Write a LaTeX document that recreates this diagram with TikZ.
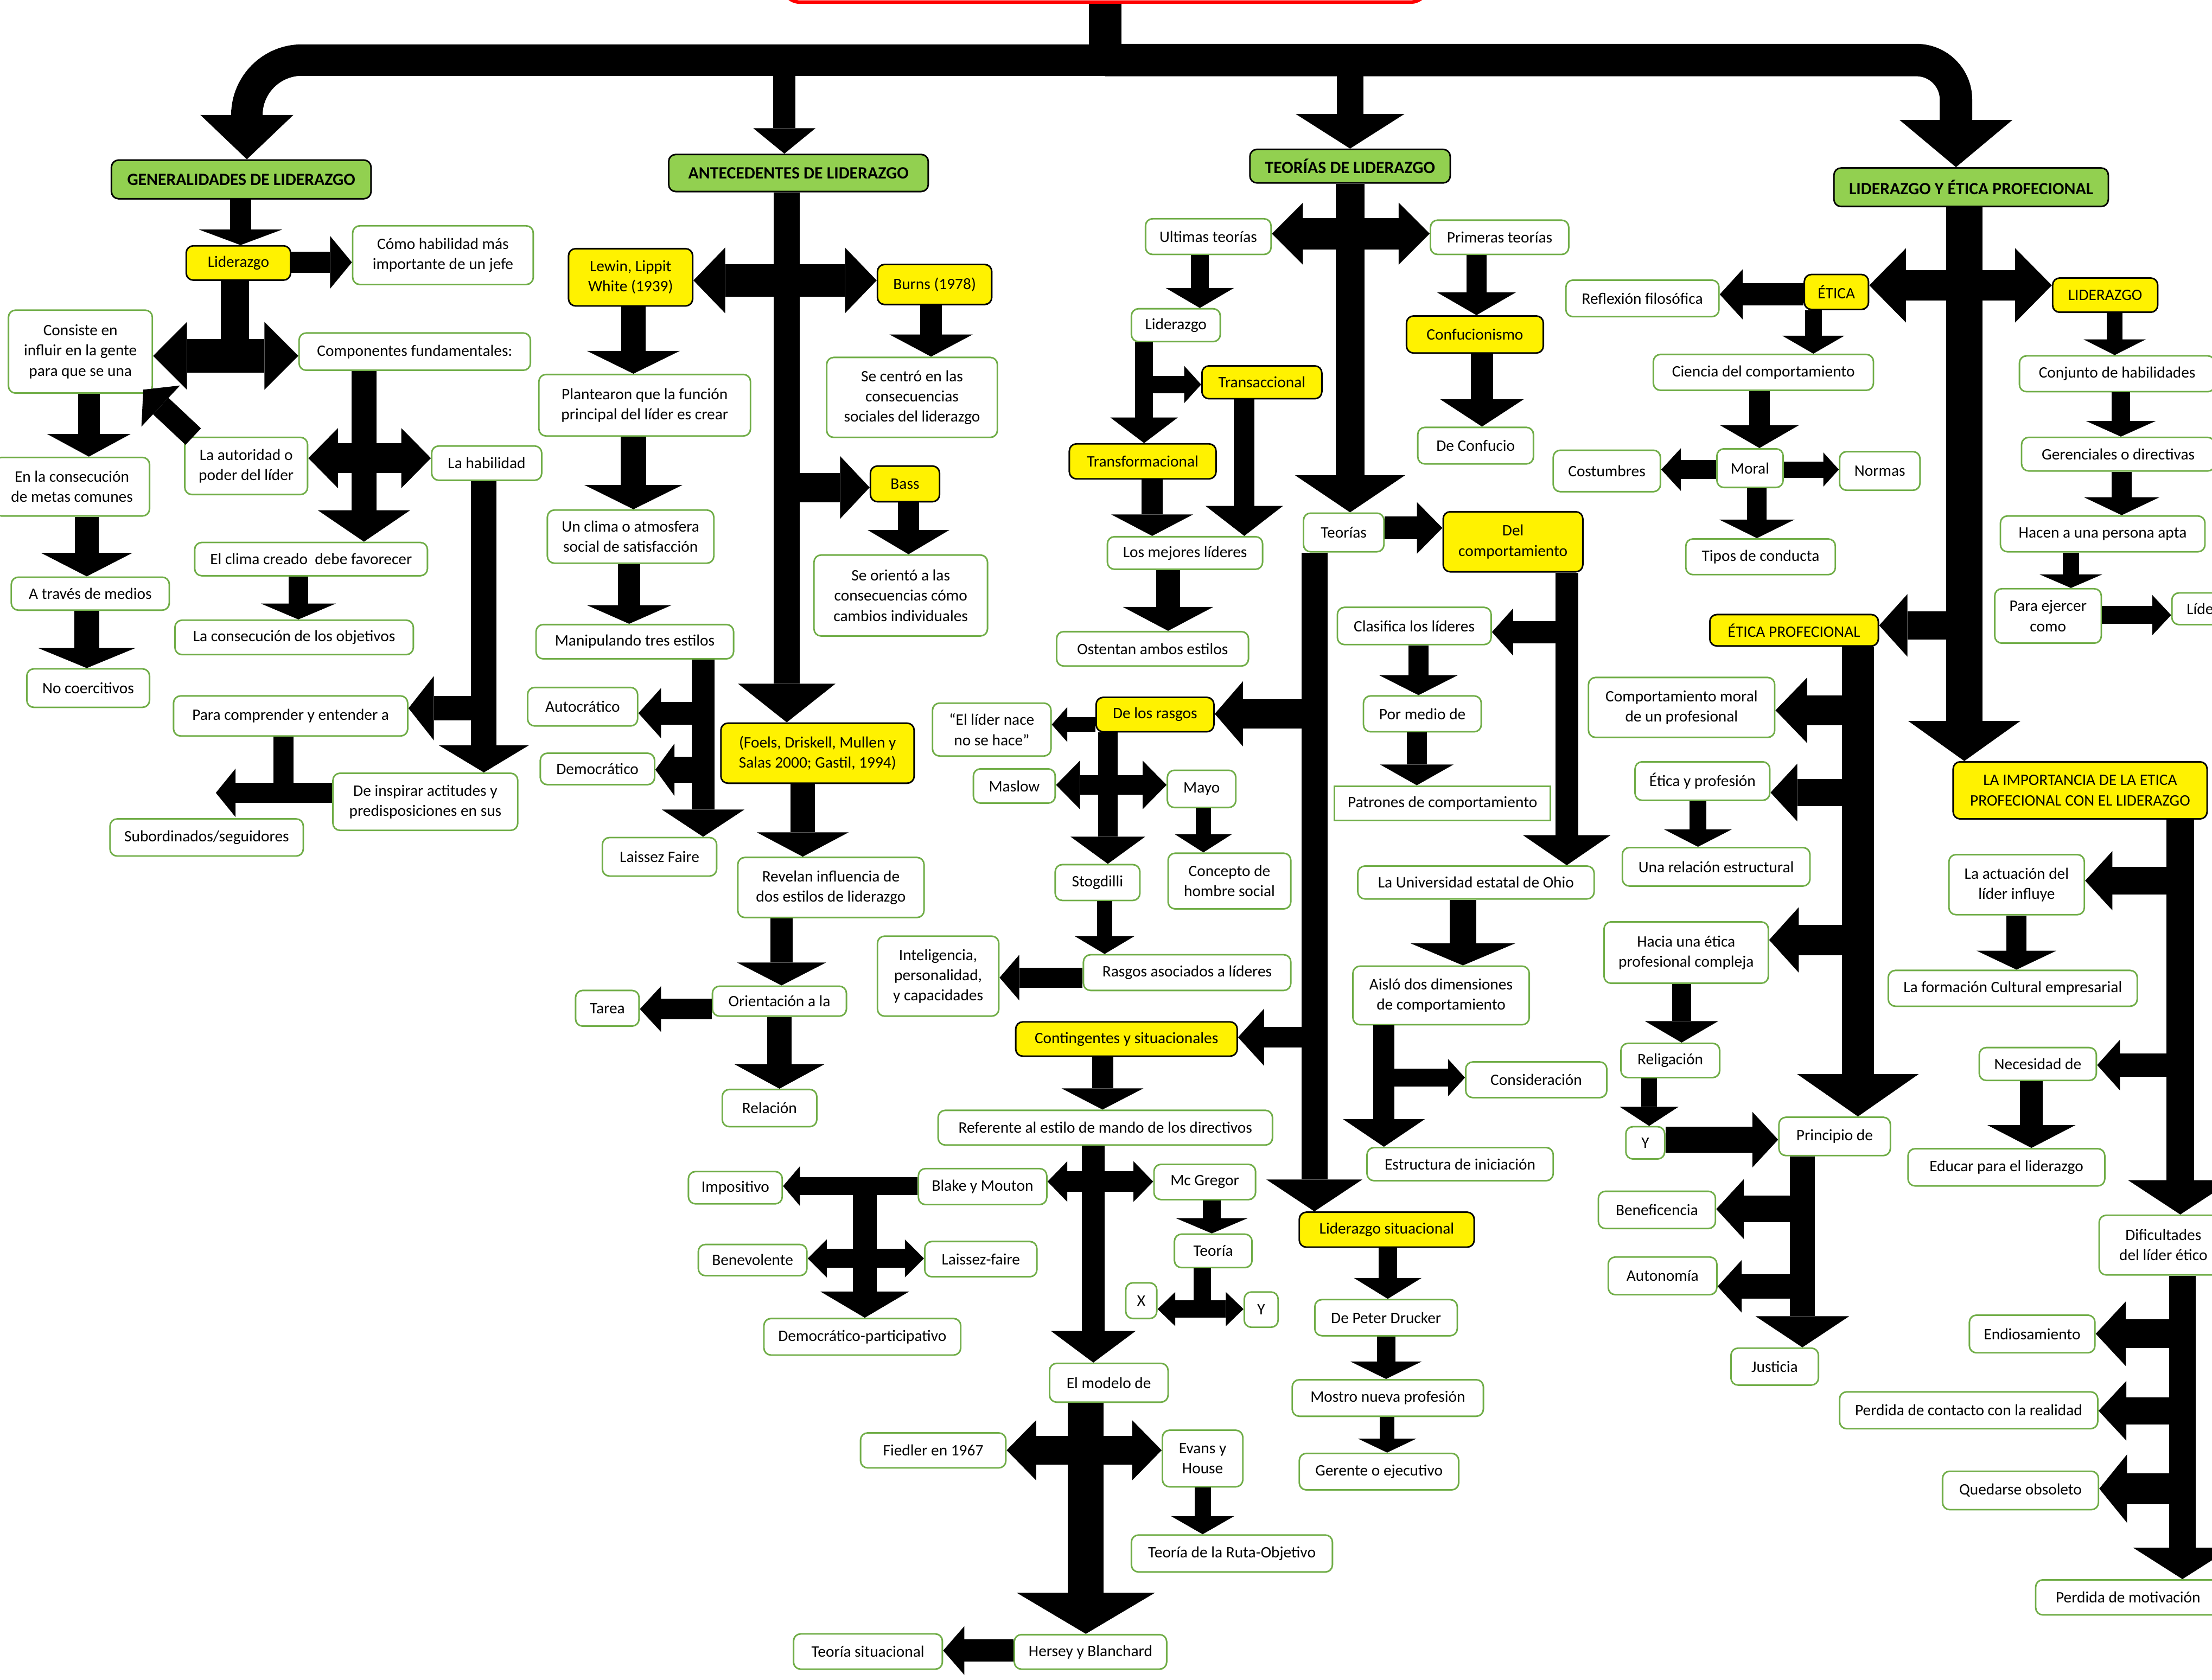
\documentclass[tikz,border=0pt]{standalone}
\usepackage{fontspec}
\setmainfont{Carlito}
\usetikzlibrary{arrows.meta}
\definecolor{hgreen}{HTML}{92D050}
\definecolor{lgreen}{HTML}{70AD47}
\newcommand\myfs{\fontsize{11.3}{14.3}\selectfont}
\newcommand\myhfs{\fontsize{12.2}{14.5}\selectfont\bfseries}
\newcommand\bx[7]{\node[#2, minimum width={(#5-(#3))*1pt}, minimum height={(#6-(#4))*1pt}] (#1) at ({(#3+#5)/2},{(#4+#6)/2}) {#7};}
\tikzset{
  base/.style={rounded corners=5pt, inner sep=1pt, align=center, font=\myfs},
  gbox/.style={base, fill=hgreen, draw=black, line width=1.1pt, font=\myhfs},
  ybox/.style={base, fill=yellow, draw=black, line width=1.1pt},
  wbox/.style={base, fill=white, draw=lgreen, line width=1.1pt},
  fa/.style n args={3}{line width=#1pt, -{Triangle[length=#3pt,width=#2pt,line width=0pt]}},
  fd/.style n args={3}{line width=#1pt, {Triangle[length=#3pt,width=#2pt,line width=0pt]}-{Triangle[length=#3pt,width=#2pt,line width=0pt]}},
  shaft/.style={line width=#1pt},
}
\begin{document}
\begin{tikzpicture}[x=1pt,y=-1pt]
\useasboundingbox (0,0) rectangle (1568,1191);
\fill[white] (0,0) rectangle (1568,1191);
% top box
\node[draw=red, fill=white, line width=2.5pt, rounded corners=12pt, minimum width=457pt, minimum height=63pt] (red) at (783.5,-30) {};
% headings
\bx{gen}{gbox}{79}{113.5}{263}{140.9}{GENERALIDADES DE LIDERAZGO}
\bx{ant}{gbox}{474}{109.5}{658}{135.8}{ANTECEDENTES DE LIDERAZGO}
\bx{teo}{gbox}{886}{105.9}{1028}{129.7}{TEORÍAS DE LIDERAZGO}
\bx{lye}{gbox}{1300}{119.1}{1494.5}{146.4}{LIDERAZGO Y ÉTICA PROFECIONAL}
% yellow
\bx{lid1}{ybox}{132}{174.3}{206}{198.6}{Liderazgo}
\bx{lewin}{ybox}{403}{176.3}{491}{216.9}{Lewin, Lippit\\White (1939)}
\bx{burns}{ybox}{622}{187.5}{703}{215.9}{Burns (1978)}
\bx{bass}{ybox}{617}{330.4}{666}{355.7}{Bass}
\bx{foels}{ybox}{511}{512.7}{648}{555.3}{(Foels, Driskell, Mullen y\\Salas 2000; Gastil, 1994)}
\bx{transac}{ybox}{852}{259.4}{937}{282.7}{Transaccional}
\bx{transf}{ybox}{758}{314.7}{862}{339.5}{Transformacional}
\bx{confu}{ybox}{997}{224}{1094}{250.3}{Confucionismo}
\bx{delcomp}{ybox}{1023}{362.8}{1122}{405.4}{Del\\comportamiento}
\bx{rasgos}{ybox}{777}{494.4}{860.5}{518.8}{De los rasgos}
\bx{conting}{ybox}{720}{724.5}{877}{748.8}{Contingentes y situacionales}
\bx{lidsit}{ybox}{921}{859.4}{1045}{884.2}{Liderazgo situacional}
\bx{etica}{ybox}{1279}{194.6}{1324.5}{219.4}{ÉTICA}
\bx{lider3}{ybox}{1455}{197.1}{1529.5}{221.4}{LIDERAZGO}
\bx{eticaprof}{ybox}{1212}{435.7}{1331.5}{458}{ÉTICA PROFECIONAL}
\bx{import}{ybox}{1384.5}{540.1}{1564.5}{580.6}{LA IMPORTANCIA DE LA ETICA\\PROFECIONAL CON EL LIDERAZGO}
% white: generalidades
\bx{como}{wbox}{250}{160.1}{378}{201.7}{Cómo habilidad más\\importante de un jefe}
\bx{consiste}{wbox}{6}{219.9}{108}{278.7}{Consiste en\\influir en la gente\\para que se una}
\bx{comp}{wbox}{212}{236.1}{376}{262.5}{Componentes fundamentales:}
\bx{autoridad}{wbox}{131}{310.1}{218}{350.6}{La autoridad o\\poder del líder}
\bx{hab}{wbox}{306}{316.2}{384}{340.5}{La habilidad}
\bx{enla}{wbox}{-4}{324.3}{106}{365.8}{En la consecución\\de metas comunes}
\bx{clima}{wbox}{138}{384.6}{303}{408.2}{El clima creado\ \ debe favorecer}
\bx{atraves}{wbox}{8}{409.2}{120}{432.6}{A través de medios}
\bx{nocoer}{wbox}{19}{474.2}{106}{501.5}{No coercitivos}
\bx{consec}{wbox}{124}{439.7}{293}{464.1}{La consecución de los objetivos}
\bx{para}{wbox}{123}{493.4}{289}{521.8}{Para comprender y entender a}
\bx{insp}{wbox}{236}{548.2}{367}{588.7}{De inspirar actitudes y\\predisposiciones en sus}
\bx{subord}{wbox}{78}{580.6}{215}{606.9}{Subordinados/seguidores}
% antecedentes
\bx{plant}{wbox}{382}{265.5}{532}{309.1}{Plantearon que la función\\principal del líder es crear}
\bx{secentro}{wbox}{586}{253.4}{707}{310.1}{Se centró en las\\consecuencias\\sociales del liderazgo}
\bx{unclima}{wbox}{388}{361.6}{506}{399.3}{Un clima o atmosfera\\social de satisfacción}
\bx{seorient}{wbox}{577}{393.5}{700}{450.9}{Se orientó a las\\consecuencias cómo\\cambios individuales}
\bx{manip}{wbox}{380}{442.8}{520}{467.1}{Manipulando tres estilos}
\bx{autocr}{wbox}{374}{487.4}{452}{514.7}{Autocrático}
\bx{democr}{wbox}{383}{534}{464}{556.3}{Democrático}
\bx{laissez}{wbox}{427}{593.8}{508}{621.1}{Laissez Faire}
\bx{revelan}{wbox}{523}{607.9}{655}{650.5}{Revelan influencia de\\dos estilos de liderazgo}
\bx{orient}{wbox}{505}{699.2}{600}{720.4}{Orientación a la}
\bx{tarea}{wbox}{408}{702.2}{453}{727.5}{Tarea}
\bx{relacion}{wbox}{512}{772.4}{579}{798.8}{Relación}
% teorias
\bx{intel}{wbox}{622}{663.7}{708}{720.4}{Inteligencia,\\personalidad,\\y capacidades}
\bx{lidernace}{wbox}{661}{498.5}{745}{536}{“El líder nace\\no se hace”}
\bx{maslow}{wbox}{690}{545.1}{748}{569.4}{Maslow}
\bx{ultimas}{wbox}{812}{155.1}{901}{180.4}{Ultimas teorías}
\bx{primeras}{wbox}{1014}{156.1}{1112}{180.4}{Primeras teorías}
\bx{lid2}{wbox}{802}{218.9}{865}{242.2}{Liderazgo}
\bx{mejores}{wbox}{785}{380.5}{895}{403.6}{Los mejores líderes}
\bx{deconfucio}{wbox}{1005}{303}{1087}{328.9}{De Confucio}
\bx{teorias}{wbox}{924}{363.8}{981}{391.2}{Teorías}
\bx{ostentan}{wbox}{749}{447.8}{885}{472.2}{Ostentan ambos estilos}
\bx{mayo}{wbox}{827.5}{546.1}{876}{572.5}{Mayo}
\bx{concepto}{wbox}{828}{604.9}{915}{644.4}{Concepto de\\hombre social}
\bx{stog}{wbox}{748}{613}{808}{638.4}{Stogdilli}
\bx{rasgosaso}{wbox}{768}{676.9}{915}{702.2}{Rasgos asociados a líderes}
\bx{clasif}{wbox}{948}{430.6}{1057}{457}{Clasifica los líderes}
\bx{pormedio}{wbox}{966.5}{493.4}{1050}{518.8}{Por medio de}
\bx{patrones}{wbox,sharp corners}{946}{557.3}{1099}{581.6}{Patrones de comportamiento}
\bx{ohio}{wbox}{962.5}{614}{1130}{637.3}{La Universidad estatal de Ohio}
\bx{aislo}{wbox}{959}{685}{1084}{726.5}{Aisló dos dimensiones\\de comportamiento}
\bx{consid}{wbox}{1039}{752.9}{1139}{778.2}{Consideración}
\bx{estructura}{wbox}{969}{813.6}{1101}{837.1}{Estructura de iniciación}
\bx{referente}{wbox}{665}{787.2}{902}{811.8}{Referente al estilo de mando de los directivos}
\bx{blake}{wbox}{651}{828.5}{742}{854}{Blake y Mouton}
\bx{mcg}{wbox}{818}{825.5}{890}{850.5}{Mc Gregor}
\bx{impositivo}{wbox}{488}{830.6}{554.5}{853.5}{Impositivo}
\bx{benev}{wbox}{495}{882.3}{572}{904.4}{Benevolente}
\bx{laissez2}{wbox}{655.5}{880.2}{735}{905.2}{Laissez-faire}
\bx{democrpart}{wbox}{541.5}{934.8}{681}{960.7}{Democrático-participativo}
\bx{teoria}{wbox}{832.5}{875}{887.5}{898.7}{Teoría}
\bx{xbox}{wbox}{798}{909.5}{820}{934.8}{X}
\bx{ybox}{wbox}{882}{916}{906}{941}{Y}
\bx{modelo}{wbox}{744}{966.6}{828}{994.1}{El modelo de}
\bx{fiedler}{wbox}{610}{1015.9}{713}{1040.7}{Fiedler en 1967}
\bx{evans}{wbox}{824}{1014}{881}{1054.1}{Evans y\\House}
\bx{ruta}{wbox}{802}{1088.3}{944.5}{1114.5}{Teoría de la Ruta-Objetivo}
\bx{hersey}{wbox}{719}{1158.9}{827}{1183.4}{Hersey y Blanchard}
\bx{teosit}{wbox}{562.5}{1158.4}{668}{1183.4}{Teoría situacional}
\bx{drucker}{wbox}{932}{921.4}{1033}{947}{De Peter Drucker}
\bx{mostro}{wbox}{916}{978.2}{1051.5}{1004.1}{Mostro nueva profesión}
\bx{gerente}{wbox}{921}{1030.4}{1034}{1056.3}{Gerente o ejecutivo}
% etica
\bx{reflexion}{wbox}{1110}{198.6}{1218.5}{224.5}{Reflexión filosófica}
\bx{ciencia}{wbox}{1172}{251.3}{1328}{276.7}{Ciencia del comportamiento}
\bx{moral}{wbox}{1217}{318.2}{1264}{345.6}{Moral}
\bx{costumbres}{wbox}{1101}{319.2}{1177}{348.6}{Costumbres}
\bx{normas}{wbox}{1304}{320.2}{1361}{347.6}{Normas}
\bx{tipos}{wbox}{1195}{382.1}{1301}{407.4}{Tipos de conducta}
\bx{conjunto}{wbox}{1431.5}{252.3}{1570}{277.7}{Conjunto de habilidades}
\bx{gerenciales}{wbox}{1433}{310.1}{1570}{333.9}{Gerenciales o directivas}
\bx{hacen}{wbox}{1418}{365.8}{1563}{391.2}{Hacen a una persona apta}
\bx{paraejercer}{wbox}{1414}{417.4}{1489.5}{456}{Para ejercer\\como}
\node[wbox, anchor=west, minimum height=22.5pt, inner xsep=10.5pt] (lider4) at (1539,431.6) {Líder};
\bx{compmoral}{wbox}{1126}{480.3}{1258}{522.8}{Comportamiento moral\\de un profesional}
\bx{eticayprof}{wbox}{1159}{540.1}{1254.5}{567.4}{Ética y profesión}
\bx{relestr}{wbox}{1150}{600.9}{1283}{628.2}{Una relación estructural}
\bx{hacia}{wbox}{1137}{653.6}{1253.5}{697.1}{Hacia una ética\\profesional compleja}
\bx{religacion}{wbox}{1149}{739.7}{1219}{764}{Religación}
\bx{y2}{wbox}{1152.5}{798.8}{1180}{821.7}{Y}
\bx{principio}{wbox}{1261}{792.1}{1340}{819.3}{Principio de}
\bx{benef}{wbox}{1133}{844.6}{1216}{871}{Beneficencia}
\bx{auton}{wbox}{1140}{891.2}{1217}{917.9}{Autonomía}
\bx{justicia}{wbox}{1227}{955.8}{1289}{982}{Justicia}
\bx{actuacion}{wbox}{1381.5}{605.9}{1477.5}{648.5}{La actuación del\\líder influye}
\bx{formacion}{wbox}{1338.5}{688}{1515}{713.4}{La formación Cultural empresarial}
\bx{necesidad}{wbox}{1403}{742.7}{1486}{766}{Necesidad de}
\bx{educar}{wbox}{1352.5}{814.4}{1492}{840.8}{Educar para el liderazgo}
\bx{dific}{wbox}{1488}{861.6}{1579}{903.9}{Dificultades\\del líder ético}
\bx{endios}{wbox}{1396}{932.4}{1485}{959.1}{Endiosamiento}
\bx{perdcont}{wbox}{1304}{986.8}{1487}{1012.9}{Perdida de contacto con la realidad}
\bx{quedarse}{wbox}{1377}{1043.1}{1487.5}{1070.3}{Quedarse obsoleto}
\bx{perdmot}{wbox}{1443}{1120.1}{1574}{1144.9}{Perdida de motivación}

% ===== trunk =====
\coordinate (trunk) at (783.5,42.6);
\draw[shaft=23] (783.5,0 |- red.south) -- (783.5,46);
\draw[line width=22.3pt, rounded corners=39pt] (trunk) -| (175,85);
\draw[fa={22}{66}{31.5}] (175,78) -- (175,0 |- gen.north);
\draw[line width=23pt, rounded corners=28pt] (trunk) -| (1386.5,87);
\draw[fa={23}{80}{33.5}] (1386.5,80) -- (1386.5,0 |- lye.north);
\draw[fa={16}{44}{18}] (trunk -| 556,0) -- (556,0 |- ant.north);
\draw[fa={19}{77}{24.5}] (trunk -| 957,0) -- (957,0 |- teo.north);

% ===== generalidades =====
\draw[fa={15}{59}{11}] (170.5,0 |- gen.south) -- (170.5,0 |- lid1.north);
\draw[fa={15.2}{37.5}{15.5}] (lid1.east |- 0,186) -- (como.west |- 0,186);
\coordinate (jA) at (166.5,252.3);
\draw[shaft=20] (166.5,0 |- lid1.south) -- (jA);
\draw[fd={23.8}{48.1}{24}] (consiste.east |- jA) -- (comp.west |- jA);
\draw[fa={15.5}{59}{16}] (63,0 |- consiste.south) -- (63,0 |- enla.north);
\draw[fa={16}{40}{17}] (137,0 |- autoridad.north) -- ([xshift=-7pt,yshift=3pt]consiste.south east);
\draw[fa={17.5}{65.5}{22.3}] (258,0 |- comp.south) -- (258,0 |- clima.north);
\draw[fd={21.3}{42.6}{21}] (autoridad.east |- 0,324.8) -- (hab.west |- 0,324.8);
\draw[fa={17}{65}{16.7}] (61.5,0 |- enla.south) -- (61.5,0 |- atraves.north);
\draw[fa={18}{69}{14.2}] (61.5,0 |- atraves.south) -- (61.5,0 |- nocoer.north);
\draw[fa={14}{53}{11.2}] (211.5,0 |- clima.south) -- (211.5,0 |- consec.north);
\draw[fa={18}{64}{19.3}] (343,0 |- hab.south) -- (343,0 |- insp.north);
\coordinate (jB) at (343,502.1);
\draw[fa={17.2}{45.6}{18}] (jB) -- (para.east |- jB);
\coordinate (jC) at (201,562.1);
\draw[shaft=14.5] (201,0 |- para.south) -- (jC);
\coordinate (tipS) at (153,562.1);
\draw[fa={14.2}{34.5}{14}] (insp.west |- jC) -- (tipS);

% ===== antecedentes =====
\draw[fa={18.6}{69}{27.4}] (557.7,0 |- ant.south) -- (557.7,0 |- foels.north);
\draw[fd={22.8}{46.6}{22.5}] (lewin.east |- 0,198.8) -- (burns.west |- 0,198.8);
\coordinate (jD) at (557.7,345.6);
\draw[fa={20.8}{44.6}{21}] (jD) -- (bass.west |- jD);
\draw[fa={17.6}{66}{16.2}] (449,0 |- lewin.south) -- (449,0 |- plant.north);
\draw[fa={15.5}{59}{15.7}] (660,0 |- burns.south) -- (660,0 |- secentro.north);
\draw[fa={18}{69.5}{17.2}] (449,0 |- plant.south) -- (449,0 |- unclima.north);
\draw[fa={15}{58}{17.2}] (644,0 |- bass.south) -- (644,0 |- seorient.north);
\draw[fa={16}{60}{13.2}] (446,0 |- unclima.south) -- (446,0 |- manip.north);
\draw[fa={16}{58.5}{19.3}] (498.4,0 |- manip.south) -- (498.4,0 |- laissez.north);
\coordinate (jE) at (498.4,505.6);
\draw[fa={16.2}{35.5}{16}] (jE) -- (autocr.east |- jE);
\coordinate (jF) at (498.4,545.7);
\draw[fa={18.2}{37}{13.5}] (jF) -- (democr.east |- jF);
\draw[fa={17}{65}{17.2}] (569,0 |- foels.south) -- (569,0 |- revelan.north);
\draw[fa={16}{63}{16.2}] (554,0 |- revelan.south) -- (554,0 |- orient.north);
\draw[fa={14.7}{32.4}{15}] (orient.west |- 0,715.4) -- (tarea.east |- 0,715.4);
\draw[fa={17}{64}{17.4}] (552.5,0 |- orient.south) -- (552.5,0 |- relacion.north);

% ===== teorias =====
\draw[fa={20.5}{78}{26.3}] (957,0 |- teo.south) -- (957,0 |- teorias.north);
\draw[fd={22.3}{44}{22}] (ultimas.east |- 0,165.7) -- (primeras.west |- 0,165.7);
\draw[fa={13}{48.5}{14.2}] (850.5,0 |- ultimas.south) -- (850.5,0 |- lid2.north);
\draw[fa={12.5}{48}{18.2}] (811,0 |- lid2.south) -- (811,0 |- transf.north);
\coordinate (jG) at (811,272.6);
\draw[fa={12.2}{26.4}{12}] (jG) -- (transac.west |- jG);
\draw[fa={14.7}{55}{21.3}] (882,0 |- transac.south) -- (882,0 |- mejores.north);
\draw[fa={15}{58}{15.2}] (816.7,0 |- transf.south) -- (816.7,0 |- mejores.north);
\draw[fa={14}{56}{16.2}] (1046.6,0 |- primeras.south) -- (1046.6,0 |- confu.north);
\draw[fa={15.5}{59}{19.3}] (1050.5,0 |- confu.south) -- (1050.5,0 |- deconfucio.north);
\draw[fa={16.2}{36.5}{18}] (teorias.east |- 0,374.3) -- (delcomp.west |- 0,374.3);
\draw[fa={18.5}{68}{22.6}] (931.7,0 |- teorias.south) -- (931.7,0 |- lidsit.north);
\coordinate (jH) at (931.7,506.1);
\draw[fa={20.8}{46.1}{20}] (jH) -- (rasgos.east |- jH);
\coordinate (jI) at (931.7,735.4);
\draw[fa={14.5}{40.5}{18.5}] (jI) -- (conting.east |- jI);
\draw[fa={16.7}{64}{16.9}] (828,0 |- mejores.south) -- (828,0 |- ostentan.north);
\draw[fa={10.6}{24.8}{11}] (rasgos.west |- 0,513.7) -- (lidernace.east |- 0,513.7);
\draw[fa={14}{53}{19.3}] (785.3,0 |- rasgos.south) -- (785.3,0 |- stog.north);
\draw[fd={13.5}{34.5}{17}] (maslow.east |- 0,556.5) -- (mayo.west |- 0,556.5);
\draw[fa={11}{40.5}{12.9}] (853,0 |- mayo.south) -- (853,0 |- concepto.north);
\draw[fa={11}{42.6}{12.7}] (783,0 |- stog.south) -- (783,0 |- rasgosaso.north);
\draw[fa={14.2}{32.4}{14}] (rasgosaso.west |- 0,693.1) -- (intel.east |- 0,693.1);
\draw[fa={15}{58}{15}] (781.5,0 |- conting.south) -- (781.5,0 |- referente.north);
\draw[fa={16}{62}{21.3}] (1110.6,0 |- delcomp.south) -- (1110.6,0 |- ohio.north);
\coordinate (jJ) at (1110.6,448.1);
\draw[fa={15.7}{33.4}{15}] (jJ) -- (clasif.east |- jJ);
\draw[fa={14}{56}{14.2}] (1005.5,0 |- clasif.south) -- (1005.5,0 |- pormedio.north);
\draw[fa={14}{52}{14.7}] (1004.3,0 |- pormedio.south) -- (1004.3,0 |- patrones.north);
\draw[fa={19}{74.5}{15.7}] (1037,0 |- ohio.south) -- (1037,0 |- aislo.north);
\draw[fa={15}{58}{19.6}] (981,0 |- aislo.south) -- (981,0 |- estructura.north);
\coordinate (jK) at (981,764);
\draw[fa={12.7}{26.4}{12}] (jK) -- (consid.west |- jK);
\draw[fa={16}{60}{22.4}] (775,0 |- referente.south) -- (775,0 |- modelo.north);
\draw[fd={14.8}{28.8}{14}] (blake.east |- 0,837.7) -- (mcg.west |- 0,837.7);
\draw[fa={12.9}{28.2}{12}] (blake.west |- 0,840.9) -- (impositivo.east |- 0,840.9);
\coordinate (jL) at (613,840.9);
\draw[fa={17}{63}{18.6}] (jL) -- (613,0 |- democrpart.north);
\draw[fd={13.5}{26.9}{13.5}] (benev.east |- 0,892.2) -- (laissez2.west |- 0,892.2);
\draw[fa={13}{51}{10.8}] (859,0 |- mcg.south) -- (859,0 |- teoria.north);
\coordinate (jM) at (852.25,928.1);
\draw[shaft=12] (852.25,0 |- teoria.south) -- (jM);
\draw[fd={12.4}{24.2}{12.5}] (xbox.east |- jM) -- (ybox.west |- jM);
\draw[fa={25.5}{98}{29.1}] (769.7,0 |- modelo.south) -- (769.7,0 |- hersey.north);
\draw[fd={20.7}{42.8}{21}] (fiedler.east |- 0,1028.2) -- (evans.west |- 0,1028.2);
\draw[fa={11.5}{45}{12.9}] (852.5,0 |- evans.south) -- (852.5,0 |- ruta.north);
\draw[fa={15.6}{34.5}{15}] (hersey.west |- 0,1170.2) -- (teosit.east |- 0,1170.2);
\draw[fa={13}{48}{14.8}] (983.7,0 |- lidsit.south) -- (983.7,0 |- drucker.north);
\draw[fa={13}{50.7}{12.4}] (982.5,0 |- drucker.south) -- (982.5,0 |- mostro.north);
\draw[fa={10.5}{41.5}{9.9}] (983.3,0 |- mostro.south) -- (983.3,0 |- gerente.north);

% ===== liderazgo y etica =====
\draw[fa={26}{79.5}{28.4}] (1392.4,0 |- lye.south) -- (1392.4,0 |- import.north);
\draw[fd={21.3}{52.7}{26}] (etica.east |- 0,202.3) -- (lider3.west |- 0,202.3);
\coordinate (jN) at (1392.4,443.4);
\draw[fa={20.3}{44.3}{20}] (jN) -- (eticaprof.east |- jN);
\draw[fa={15.9}{35.5}{16.2}] (etica.west |- 0,208.7) -- (reflexion.east |- 0,208.7);
\draw[fa={12}{44}{12.7}] (1285.4,0 |- etica.south) -- (1285.4,0 |- ciencia.north);
\draw[fa={14.5}{56}{16.2}] (1247.2,0 |- ciencia.south) -- (1247.2,0 |- moral.north);
\draw[fa={13.2}{30.4}{14}] (moral.west |- 0,332.9) -- (costumbres.east |- 0,332.9);
\draw[fa={11.5}{24.3}{11}] (moral.east |- 0,332.9) -- (normas.west |- 0,332.9);
\draw[fa={14}{53.5}{13.2}] (1245.4,0 |- moral.south) -- (1245.4,0 |- tipos.north);
\draw[fa={11}{44}{11.1}] (1499,0 |- lider3.south) -- (1499,0 |- conjunto.north);
\draw[fa={12.8}{49.5}{11.1}] (1503.4,0 |- conjunto.south) -- (1503.4,0 |- gerenciales.north);
\draw[fa={14}{53.5}{12.7}] (1504,0 |- gerenciales.south) -- (1504,0 |- hacen.north);
\draw[fa={11.3}{44.5}{9.6}] (1468,0 |- hacen.south) -- (1468,0 |- paraejercer.north);
\draw[fa={12.7}{28.4}{13.3}] (paraejercer.east |- 0,436.1) -- (lider4.west |- 0,436.1);
\draw[fa={23}{86}{30}] (1317,0 |- eticaprof.south) -- (1317,0 |- principio.north);
\coordinate (jO) at (1317,503.6);
\draw[fa={21.3}{46.6}{22.5}] (jO) -- (compmoral.east |- jO);
\coordinate (jP) at (1317,561.9);
\draw[fa={19.3}{41}{19}] (jP) -- (eticayprof.east |- jP);
\coordinate (jQ) at (1317,666.4);
\draw[fa={21.6}{46.4}{21}] (jQ) -- (hacia.east |- jQ);
\draw[fa={11.7}{48.3}{12.4}] (1203.6,0 |- eticayprof.south) -- (1203.6,0 |- relestr.north);
\draw[fa={13.5}{52}{15.2}] (1192,0 |- hacia.south) -- (1192,0 |- religacion.north);
\draw[fa={11}{41.5}{13.5}] (1169,0 |- religacion.south) -- (1169,0 |- y2.north);
\draw[fa={18.3}{39.5}{18.3}] (y2.east |- 0,808) -- (principio.west |- 0,808);
\draw[fa={17.7}{66.5}{22.1}] (1277.6,0 |- principio.south) -- (1277.6,0 |- justicia.north);
\coordinate (jR) at (1277.6,857.2);
\draw[fa={18.9}{42.3}{19.5}] (jR) -- (benef.east |- jR);
\coordinate (jS) at (1277.6,912);
\draw[fa={17.5}{37.2}{17}] (jS) -- (auton.east |- jS);
\draw[fa={19.5}{74}{24.3}] (1545.5,0 |- import.south) -- (1545.5,0 |- dific.north);
\coordinate (jT) at (1545.5,624.4);
\draw[fa={19.6}{42}{19.3}] (jT) -- (actuacion.east |- jT);
\coordinate (jU) at (1545.5,755.1);
\draw[fa={16.5}{36}{16.2}] (jU) -- (necesidad.east |- jU);
\draw[fa={14.2}{56.5}{13.4}] (1429.4,0 |- actuacion.south) -- (1429.4,0 |- formacion.north);
\draw[fa={16.3}{62.5}{16.2}] (1440,0 |- necesidad.south) -- (1440,0 |- educar.north);
\draw[fa={19}{70}{22.3}] (1547,0 |- dific.south) -- (1547,0 |- perdmot.north);
\coordinate (jV) at (1547,945.6);
\draw[fa={20.4}{45.8}{21.3}] (jV) -- (endios.east |- jV);
\coordinate (jW) at (1547,1000.2);
\draw[fa={19.1}{42.3}{19.7}] (jW) -- (perdcont.east |- jW);
\coordinate (jX) at (1547,1055.4);
\draw[fa={21.9}{48.5}{19.7}] (jX) -- (quedarse.east |- jX);
\end{tikzpicture}
\end{document}
